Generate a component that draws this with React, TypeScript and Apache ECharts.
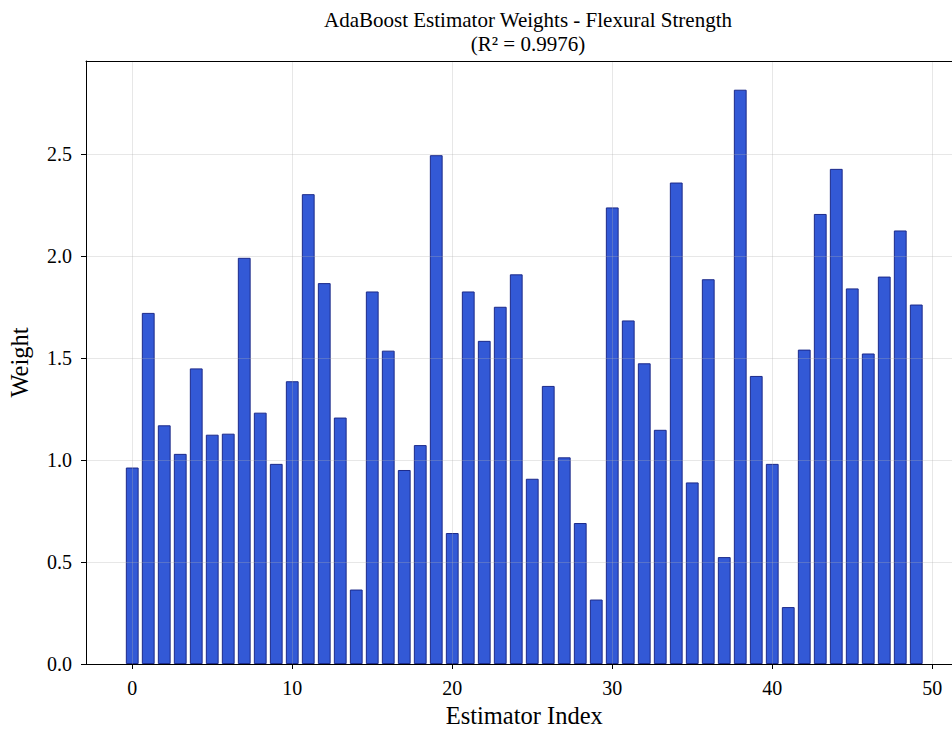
import React, { useEffect, useRef } from "react";
import * as echarts from "echarts";

const estimatorIndex: number[] = Array.from({ length: 50 }, (_, i) => i);
const weights: number[] = [
  0.963, 1.721, 1.17, 1.03, 1.449, 1.124, 1.129, 1.991, 1.232, 0.981,
  1.386, 2.303, 1.867, 1.208, 0.365, 1.826, 1.536, 0.951, 1.073, 2.494,
  0.642, 1.826, 1.584, 1.751, 1.91, 0.908, 1.363, 1.013, 0.691, 0.316,
  2.238, 1.684, 1.474, 1.148, 2.36, 0.89, 1.886, 0.524, 2.815, 1.412,
  0.981, 0.279, 1.541, 2.206, 2.427, 1.841, 1.522, 1.899, 2.125, 1.762,
];
const xTicks: number[] = [0, 10, 20, 30, 40, 50];
const titleText = "AdaBoost Estimator Weights - Flexural Strength\n(R² = 0.9976)";
const xName = "Estimator Index";
const yName = "Weight";

const FONT = "'Liberation Serif', 'DejaVu Serif', serif";

export default function App() {
  const ref = useRef<HTMLDivElement>(null);
  useEffect(() => {
    if (!ref.current) return;
    const chart = echarts.init(ref.current, undefined, { renderer: "svg" });
    const xMin = -0.4 - 0.05 * 49.8;
    const xMax = 49.4 + 0.05 * 49.8;
    const yMax = Math.max(...weights) * 1.05;
    const gridLine = { show: true, lineStyle: { color: "rgba(176,176,176,0.3)", width: 1 } };
    chart.setOption({
      animation: false,
      backgroundColor: "#ffffff",
      title: {
        text: titleText,
        left: 523,
        top: 3,
        textAlign: "center",
        textStyle: {
          fontFamily: FONT,
          fontWeight: "normal",
          fontSize: 21,
          lineHeight: 24,
          color: "#000",
        },
      },
      grid: {
        left: 86,
        top: 61,
        width: 876.5,
        bottom: 65,
        containLabel: false,
        outerBoundsMode: "none",
      },
      xAxis: [
        {
          type: "value",
          min: xMin,
          max: xMax,
          z: 3,
          name: xName,
          nameLocation: "middle",
          nameGap: 39,
          nameTextStyle: { fontFamily: FONT, fontSize: 24.5, color: "#000" },
          axisLine: { show: true, onZero: false, lineStyle: { color: "#000", width: 1 } },
          axisTick: { show: true, length: 5, customValues: xTicks, lineStyle: { color: "#000" } },
          axisLabel: {
            customValues: xTicks,
            fontFamily: FONT,
            fontSize: 20,
            color: "#000",
            margin: 14,
          },
          splitLine: gridLine,
        },
        {
          type: "value",
          position: "top",
          min: xMin,
          max: xMax,
          z: 3,
          axisLine: { show: true, onZero: false, lineStyle: { color: "#000", width: 1 } },
          axisTick: { show: false },
          axisLabel: { show: false },
          splitLine: { show: false },
        },
      ],
      yAxis: {
        type: "value",
        min: 0,
        max: yMax,
        interval: 0.5,
        z: 3,
        name: yName,
        nameLocation: "middle",
        nameGap: 54,
        nameTextStyle: { fontFamily: FONT, fontSize: 24.5, color: "#000" },
        axisLine: { show: true, onZero: false, lineStyle: { color: "#000", width: 1 } },
        axisTick: { show: true, length: 5, lineStyle: { color: "#000" } },
        axisLabel: {
          fontFamily: FONT,
          fontSize: 20,
          color: "#000",
          margin: 14,
          showMaxLabel: false,
          formatter: (v: number) => v.toFixed(1),
        },
        splitLine: gridLine,
      },
      series: [
        {
          type: "bar",
          xAxisIndex: 0,
          barWidth: 12.8,
          data: estimatorIndex.map((i) => [i, weights[i]]),
          itemStyle: { color: "#3359d6", borderColor: "#1c2a8a", borderWidth: 1 },
        },
      ],
    });
    return () => chart.dispose();
  }, []);
  return (
    <div
      ref={ref}
      style={{ position: "absolute", left: 0, top: 0, width: 952, height: 729 }}
    />
  );
}
